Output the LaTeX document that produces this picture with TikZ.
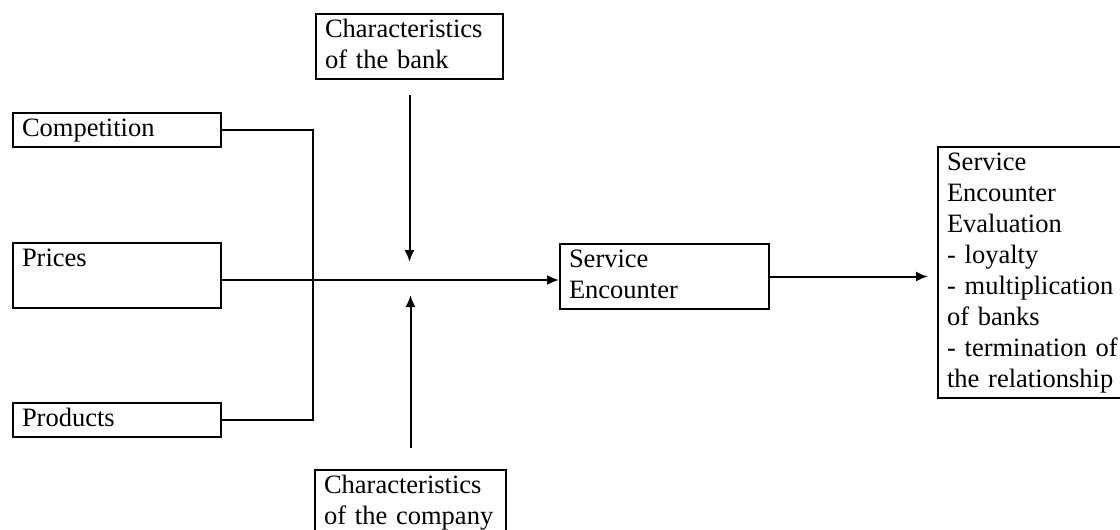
\documentclass[tikz,border=0pt]{standalone}
\usepackage{fontspec}
\setmainfont{Liberation Serif}
\usetikzlibrary{arrows.meta}

\tikzset{
	box/.style={draw, anchor=north west, align=left, inner xsep=9pt, inner ysep=1.5pt,
		font=\fontsize{26.5}{31}\selectfont, execute at begin node=\strut, execute at end node=\strut},
	flow/.style={-{Latex[length=12pt,width=10pt]}}
}

\begin{document}
\begin{tikzpicture}[x=1pt,y=-1pt,line width=2pt]
	\useasboundingbox (0,0) rectangle (1120,530);
	\node[box,text width=190pt] (compet) at (12,112) {Competition};
	\node[box,text width=190pt,text depth=40.3pt] (prices) at (12,242) {Prices};
	\node[box,text width=190pt] (products) at (12,402) {Products};
	\node[box,text width=169pt] (bank) at (315,13) {Characteristics\\of the bank};
	\node[box,text width=173pt] (company) at (314,469) {Characteristics\\of the company};
	\node[box,text width=191pt] (encounter) at (559,243) {Service\\Encounter};
	\node[box,text width=185pt] (evaluation) at (937,146) {Service\\Encounter\\Evaluation\\- loyalty\\- multiplication\\of banks\\- termination of\\the relationship};
	\coordinate (hub) at (405,280);
	\coordinate (bus) at (313,0);
	\draw (compet.east) -| (bus |- products.east) -- (products.east);
	\draw[flow] (prices.east |- hub) -- (encounter.west |- hub);
	\draw[flow,shorten <=15pt,shorten >=18pt] (bank.south) -- (bank.south |- hub);
	\draw[flow,shorten <=21pt,shorten >=15pt] (company.north) -- (company.north |- hub);
	\draw[flow,shorten >=9pt] (encounter.east) -- (encounter.east -| evaluation.west);
\end{tikzpicture}
\end{document}
